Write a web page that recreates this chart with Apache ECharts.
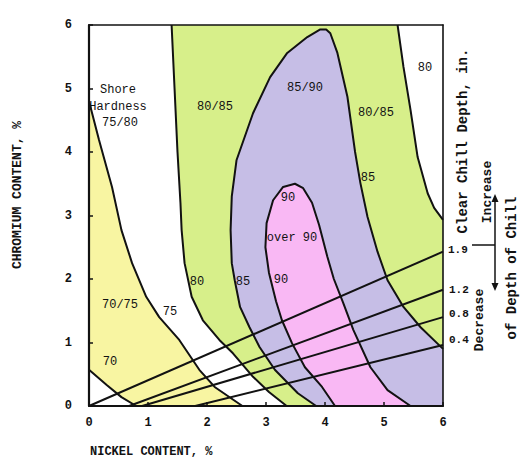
<!DOCTYPE html>
<html><head><meta charset="utf-8">
<script src="https://cdn.jsdelivr.net/npm/echarts@6/dist/echarts.min.js"></script>
<style>html,body{margin:0;padding:0;background:#fff}#c{width:520px;height:461px}</style>
</head><body><div id="c"></div>
<script>
// ---- data (Nickel %, Chromium %) ----
const xTickLabels = ['0','1','2','3','4','5','6'];
const yTickLabels = ['0','1','2','3','4','5','6'];

const curve70 = [[0,0.57],[0.3,0.33],[0.55,0.14],[0.8,0]];
const curve75 = [[0,4.8],[0.17,4.19],[0.39,3.45],[0.55,2.77],[0.73,2.25],[0.97,1.72],[1.19,1.40],[1.53,1.04],[1.87,0.57],[2.13,0.30],[2.6,0]];
const curve80L = [[1.40,6.0],[1.45,5.0],[1.50,4.0],[1.55,3.2],[1.57,2.77],[1.62,2.25],[1.74,1.72],[1.93,1.35],[2.21,1.04],[2.44,0.83],[2.78,0.46],[3.05,0.22],[3.35,0]];
const curve85 = [[3.85,0],[3.54,0.2],[3.15,0.57],[2.89,0.93],[2.72,1.24],[2.56,1.56],[2.47,1.98],[2.42,2.25],[2.40,2.77],[2.42,3.3],[2.50,3.87],[2.78,4.61],[3.07,5.18],[3.36,5.56],[3.70,5.81],[3.92,5.93],[4.02,5.93],[4.09,5.87],[4.21,5.56],[4.38,4.87],[4.51,4.0],[4.60,3.51],[4.72,2.98],[4.89,2.43],[5.06,1.98],[5.33,1.56],[5.62,1.24],[6.0,0.9]];
const curve90 = [[4.17,0],[3.95,0.3],[3.66,0.61],[3.44,0.99],[3.27,1.35],[3.17,1.65],[3.05,2.1],[2.99,2.5],[3.01,2.88],[3.12,3.24],[3.29,3.45],[3.49,3.50],[3.63,3.43],[3.78,3.20],[3.90,2.85],[4.04,2.35],[4.15,2.0],[4.31,1.62],[4.48,1.2],[4.77,0.61],[5.06,0.25],[5.45,0]];
const curve80R = [[5.23,6.0],[5.33,5.34],[5.45,4.66],[5.57,3.92],[5.74,3.35],[5.85,3.12],[6.0,2.93]];

const chillNames = ['1.9','1.2','0.8','0.4'];
const chill19 = [[0,0],[6,2.43]];
const chill12 = [[0.68,0],[6,1.83]];
const chill08 = [[0.9,0],[6,1.40]];
const chill04 = [[1.8,0],[6,0.96]];

// regions built from the curves
const regionYellow = curve75.concat(curve70.slice().reverse());
const regionGreen = curve80L.concat([[6,0]], curve80R.slice().reverse());
const regionPurple = curve85.concat([[6,0]]);
const regionPink = curve90.slice();

const chart = echarts.init(document.getElementById('c'), null, {renderer:'svg'});
const MONO = '"Liberation Mono", "DejaVu Sans Mono", monospace';
const INK = '#121212';

function polySeries(pts, color){
  return {type:'custom', coordinateSystem:'cartesian2d', clip:true, silent:true, z:1,
    data: pts, encode:{x:0,y:1},
    renderItem:(params, api)=>{
      if(params.dataIndex!==0) return null;
      return {type:'polygon', shape:{points: pts.map(p=>api.coord(p))},
        style:{fill:color, stroke:color, lineWidth:0.5}};
    }};
}
function lineSeries(pts, w){
  return {type:'line', data:pts, symbol:'none', showSymbol:false, clip:true, silent:true, z:5,
    lineStyle:{color:INK, width:w||2}};
}
function txt(t, x, y, opt){
  opt = opt||{};
  return {type:'text', x:x, y:y, rotation:opt.rot||0, z:20, silent:true,
    style:{text:t, fill:INK, font:(opt.weight||'normal')+' '+(opt.size||12)+'px '+MONO,
      align:opt.align||'center', verticalAlign:'middle'}};
}

const inner = [
  ['Shore',118,90],['Hardness',118,107],['75/80',120,123],
  ['80/85',215,107],['85/90',305,88],['80/85',376,113],['85',368,178],['80',425,68],
  ['90',288,198],['over 90',292,238],['90',281,280],['85',243,282],['80',197,282],
  ['75',170,312],['70/75',120,305],['70',110,362]
];
const rightLab = [[chillNames[0],448,250],[chillNames[1],449,290],[chillNames[2],449,314],[chillNames[3],449,340]];

const graphics = [];
inner.forEach(a=>graphics.push(txt(a[0],a[1],a[2],{size:12})));
rightLab.forEach(a=>graphics.push(txt(a[0],a[1],a[2],{size:11,weight:'bold',align:'left'})));
graphics.push(txt('NICKEL CONTENT, %',90,452,{size:12,weight:'bold',align:'left'}));
graphics.push(txt('CHROMIUM CONTENT, %',17,195,{size:13,weight:'bold',rot:Math.PI/2}));
graphics.push(txt('Clear Chill Depth, in.',463,141,{size:14,weight:'bold',rot:Math.PI/2}));
graphics.push(txt('Increase',487,192,{size:13,weight:'bold',rot:Math.PI/2}));
graphics.push(txt('Decrease',479,320,{size:13,weight:'bold',rot:Math.PI/2}));
graphics.push(txt('of Depth of Chill',512,268,{size:14,weight:'bold',rot:Math.PI/2}));
graphics.push({type:'line', shape:{x1:495,y1:199,x2:495,y2:286}, style:{stroke:INK,lineWidth:1.5}, z:20});
graphics.push({type:'line', shape:{x1:472,y1:245,x2:495,y2:245}, style:{stroke:INK,lineWidth:1.5}, z:20});
graphics.push({type:'polygon', shape:{points:[[495,194],[491.5,202],[498.5,202]]}, style:{fill:INK}, z:20});
graphics.push({type:'polygon', shape:{points:[[495,291],[491.5,283],[498.5,283]]}, style:{fill:INK}, z:20});

const axisLab = {fontFamily:MONO, fontWeight:'bold', fontSize:12, color:INK};
chart.setOption({
  animation:false,
  backgroundColor:'#fff',
  grid:{left:89, top:25, width:354, height:381},
  xAxis:[
    {type:'value', min:0, max:6, interval:1, z:10,
     axisLine:{onZero:false, lineStyle:{color:INK, width:2.2}},
     axisTick:{inside:true, length:4, lineStyle:{color:INK, width:1.5}},
     axisLabel:Object.assign({margin:11, formatter:v=>xTickLabels[Math.round(v)]}, axisLab),
     splitLine:{show:false}},
    {type:'value', position:'top', min:0, max:6, interval:1, z:10,
     axisLine:{onZero:false, lineStyle:{color:INK, width:1.6}},
     axisTick:{show:false}, axisLabel:{show:false}, splitLine:{show:false}}
  ],
  yAxis:[
    {type:'value', min:0, max:6, interval:1, z:10,
     axisLine:{onZero:false, lineStyle:{color:INK, width:2.2}},
     axisTick:{inside:true, length:4, lineStyle:{color:INK, width:1.5}},
     axisLabel:Object.assign({margin:17, formatter:v=>yTickLabels[Math.round(v)]}, axisLab),
     splitLine:{show:false}},
    {type:'value', position:'right', min:0, max:6, interval:1, z:10,
     axisLine:{onZero:false, lineStyle:{color:INK, width:1.6}},
     axisTick:{show:false}, axisLabel:{show:false}, splitLine:{show:false}}
  ],
  series:[
    polySeries(regionYellow, '#f8f5a2'),
    polySeries(regionGreen, '#d7ef8a'),
    polySeries(regionPurple, '#c6bee6'),
    polySeries(regionPink, '#f9b8f4'),
    lineSeries(curve70), lineSeries(curve75), lineSeries(curve80L),
    lineSeries(curve85), lineSeries(curve90), lineSeries(curve80R),
    lineSeries(chill19), lineSeries(chill12), lineSeries(chill08), lineSeries(chill04)
  ],
  graphic: graphics
});
</script></body></html>
